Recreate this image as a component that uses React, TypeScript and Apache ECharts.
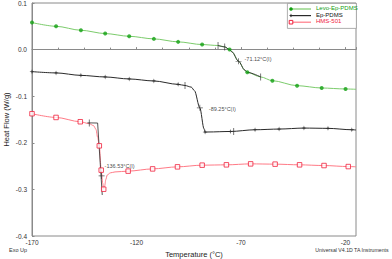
import React, { useEffect, useRef } from "react";
import * as echarts from "echarts";

// Levo-Ep-PDMS curve [T, heat flow]
const greenCurve: [number, number][] = [
  [-170, 0.058], [-158.5, 0.05], [-146.6, 0.0415], [-135, 0.0344], [-123.5, 0.0286],
  [-111.7, 0.023], [-100.1, 0.0166], [-88.6, 0.0108], [-81, 0.0088], [-77.8, 0.0058],
  [-75.5, 0.0], [-74.3, -0.005], [-71.2, -0.025], [-68.2, -0.044], [-67, -0.0488],
  [-60.6, -0.0587], [-55, -0.0667], [-43.2, -0.0774], [-31.4, -0.0824], [-20, -0.0845], [-15, -0.0852],
];
const greenMarkers: [number, number][] = [
  [-170, 0.058], [-158.5, 0.05], [-146.6, 0.0415], [-135, 0.0344], [-123.5, 0.0286],
  [-111.7, 0.023], [-100.1, 0.0166], [-88.6, 0.0108], [-75.5, 0.0], [-67, -0.0488],
  [-55, -0.0667], [-43.2, -0.0774], [-31.4, -0.0824], [-20, -0.0845],
];
const greenStep: [number, number] = [-81, -60.6];

// Ep-PDMS curve
const blackCurve: [number, number][] = [
  [-170, -0.0473], [-158.5, -0.05], [-146.6, -0.0553], [-135, -0.0587], [-123.5, -0.063],
  [-111.7, -0.0673], [-100.1, -0.0746], [-96.8, -0.077], [-93.8, -0.0805], [-92.3, -0.088],
  [-89.7, -0.125], [-87.7, -0.17], [-87.2, -0.177], [-85.8, -0.1768], [-75.1, -0.1757],
  [-63.3, -0.172], [-51.8, -0.1705], [-39.9, -0.1684], [-28.4, -0.169], [-17, -0.172], [-15, -0.1725],
];
const blackMarkers: [number, number][] = [
  [-170, -0.0473], [-158.5, -0.05], [-146.6, -0.0553], [-135, -0.0587], [-123.5, -0.063],
  [-111.7, -0.0673], [-100.1, -0.0746], [-87.2, -0.177], [-75.1, -0.1757], [-63.3, -0.172],
  [-51.8, -0.1705], [-39.9, -0.1684], [-28.4, -0.169], [-17, -0.172],
];

// HMS-501 curve
const redCurve: [number, number][] = [
  [-170, -0.1376], [-158.5, -0.1456], [-146.9, -0.1548], [-142.6, -0.159], [-140.6, -0.163],
  [-139.4, -0.171], [-138.6, -0.188], [-137.8, -0.2065], [-136.9, -0.2587], [-136.2, -0.286],
  [-135.7, -0.2996], [-135.2, -0.292], [-134.7, -0.279], [-134.0, -0.269], [-132.5, -0.2645],
  [-130.3, -0.2625], [-124, -0.2608], [-112.3, -0.256], [-100.4, -0.2516], [-88.6, -0.248],
  [-77, -0.2473], [-65.4, -0.2452], [-53.7, -0.2458], [-42, -0.2473], [-30.3, -0.2488],
  [-18.7, -0.251], [-15, -0.2515],
];
const redMarkers: [number, number][] = [
  [-170, -0.1376], [-158.5, -0.1456], [-146.9, -0.1548], [-137.8, -0.2065], [-136.9, -0.2587],
  [-135.7, -0.2996], [-124, -0.2608], [-112.3, -0.256], [-100.4, -0.2516], [-88.6, -0.248],
  [-77, -0.2473], [-65.4, -0.2452], [-53.7, -0.2458], [-42, -0.2473], [-30.3, -0.2488], [-18.7, -0.251],
];
const redTangentFlat: [number, number][] = [[-143.5, -0.1572], [-138.6, -0.1576]];
const redTangentSteep: [number, number][] = [[-138.6, -0.1576], [-136.4, -0.312]];

// analysis tick marks (onset / offset)
const analysisTicks: [number, number][] = [
  [-81, 0.0088], [-77.8, 0.0058], [-60.6, -0.0587],
  [-96.8, -0.077], [-73.5, -0.1755],
  [-142.6, -0.1575],
];
// glass-transition inflection points with labels
const inflections: { value: [number, number]; text: string; offset: [number, number] }[] = [
  { value: [-71.2, -0.025], text: "-71.12°C(I)", offset: [1, -2.5] },
  { value: [-89.7, -0.125], text: "-89.25°C(I)", offset: [4, 1] },
  { value: [-136.7, -0.271], text: "-136.53°C(I)", offset: [-2, -10] },
];

const xTicks = { min: -170, max: -15, interval: 50 };
const yTicks = { min: -0.4, max: 0.1, interval: 0.1 };

const GREEN_LINE = "#7ccc6c";
const GREEN_MARK = "#12a012";
const BLACK = "#2a2a2a";
const RED_LINE = "#ff7a86";
const RED_MARK = "#f0203c";
const FONT = "Liberation Sans";

const STAR = "path://M5,0L6.2,3.8L10,5L6.2,6.2L5,10L3.8,6.2L0,5L3.8,3.8Z";
const PLUS = "path://M4.4,0H5.6V4.4H10V5.6H5.6V10H4.4V5.6H0V4.4H4.4Z";

export default function App() {
  const ref = useRef<HTMLDivElement>(null);
  useEffect(() => {
    if (!ref.current) return;
    const chart = echarts.init(ref.current, undefined, { renderer: "svg" });
    const stepSeg = greenCurve.filter((p) => p[0] >= greenStep[0] && p[0] <= greenStep[1]);
    const legendRows = [
      { name: "Levo-Ep-PDMS", line: GREEN_LINE, color: GREEN_MARK, text: GREEN_MARK },
      { name: "Ep-PDMS", line: BLACK, color: BLACK, text: "#111" },
      { name: "HMS-501", line: RED_LINE, color: RED_MARK, text: RED_MARK },
    ];
    const legendGraphics: any[] = [
      { type: "rect", left: 287, top: 3, shape: { width: 69, height: 25 }, style: { fill: "#fff", stroke: "#999", lineWidth: 0.8 }, z: 100 },
    ];
    legendRows.forEach((r, i) => {
      const y = 9 + i * 6.6;
      legendGraphics.push({ type: "line", shape: { x1: 290, y1: y, x2: 311, y2: y }, style: { stroke: r.line, lineWidth: 1.2 }, z: 101 });
      if (i === 0) legendGraphics.push({ type: "circle", shape: { cx: 291, cy: y, r: 1.8 }, style: { fill: r.color }, z: 102 });
      if (i === 1) legendGraphics.push({ type: "polygon", shape: { points: [[291, y - 2], [291.6, y - 0.6], [293, y], [291.6, y + 0.6], [291, y + 2], [290.4, y + 0.6], [289, y], [290.4, y - 0.6]] }, style: { fill: r.color }, z: 102 });
      if (i === 2) legendGraphics.push({ type: "rect", shape: { x: 289.2, y: y - 1.8, width: 3.6, height: 3.6 }, style: { fill: "#fff", stroke: r.color, lineWidth: 1 }, z: 102 });
      legendGraphics.push({ type: "text", left: 316, top: y - 4, style: { text: r.name, fill: r.text, font: `6px "${FONT}"` }, z: 102 });
    });

    chart.setOption({
      animation: false,
      backgroundColor: "#fff",
      textStyle: { fontFamily: FONT },
      grid: { left: 32, right: 36, top: 3, bottom: 23, show: true, borderColor: "#8a8a8a", borderWidth: 1, outerBoundsMode: "none", containLabel: false },
      xAxis: {
        type: "value",
        min: xTicks.min,
        max: xTicks.max,
        interval: xTicks.interval,
        name: "Temperature (°C)",
        nameLocation: "middle",
        nameGap: 14,
        nameMoveOverlap: false,
        nameTextStyle: { fontSize: 7.5, color: "#222", fontFamily: FONT },
        axisLine: { lineStyle: { color: "#8a8a8a" } },
        axisTick: { inside: true, length: 2.5, lineStyle: { color: "#8a8a8a" } },
        minorTick: { show: true, splitNumber: 4, length: 2, lineStyle: { color: "#8a8a8a" } },
        axisLabel: { fontSize: 6.5, color: "#333", margin: 3, showMaxLabel: false, fontFamily: FONT },
        splitLine: { show: false },
      },
      yAxis: {
        type: "value",
        min: yTicks.min,
        max: yTicks.max,
        interval: yTicks.interval,
        name: "Heat Flow (W/g)",
        nameLocation: "middle",
        nameGap: 22,
        nameMoveOverlap: false,
        nameRotate: 90,
        nameTextStyle: { fontSize: 7.5, color: "#222", fontFamily: FONT },
        axisLine: { lineStyle: { color: "#8a8a8a" } },
        axisTick: { inside: true, length: 2.5, lineStyle: { color: "#8a8a8a" } },
        axisLabel: { fontSize: 6.5, color: "#333", margin: 5, formatter: (v: number) => v.toFixed(1), fontFamily: FONT },
        splitLine: { show: false },
      },
      graphic: [
        { type: "text", left: 9, top: 247, style: { text: "Exo Up", fill: "#333", font: `5.5px "${FONT}"` } },
        { type: "text", right: 3, top: 247, style: { text: "Universal V4.1D TA Instruments", fill: "#333", font: `5.2px "${FONT}"` } },
        ...legendGraphics,
      ],
      series: [
        { type: "line", data: greenCurve, symbol: "none", lineStyle: { color: GREEN_LINE, width: 1 }, smooth: 0.3, smoothMonotone: "x", z: 2 },
        { type: "line", data: stepSeg, symbol: "none", lineStyle: { color: BLACK, width: 0.9 }, smooth: 0.3, smoothMonotone: "x", z: 3 },
        { type: "scatter", data: greenMarkers, symbol: "circle", symbolSize: 4, itemStyle: { color: GREEN_MARK }, z: 4 },
        { type: "line", data: blackCurve, symbol: "none", lineStyle: { color: BLACK, width: 1 }, smooth: 0.3, smoothMonotone: "x", z: 2 },
        { type: "scatter", data: blackMarkers, symbol: STAR, symbolSize: 5, itemStyle: { color: BLACK }, z: 4 },
        { type: "line", data: redCurve, symbol: "none", lineStyle: { color: RED_LINE, width: 1 }, smooth: 0.3, smoothMonotone: "x", z: 2 },
        { type: "scatter", data: redMarkers, symbol: "rect", symbolSize: 4.5, itemStyle: { color: "#fff", borderColor: RED_MARK, borderWidth: 1 }, z: 4 },
        { type: "line", data: redTangentFlat, symbol: "none", lineStyle: { color: BLACK, width: 0.8 }, z: 3 },
        { type: "line", data: redTangentSteep, symbol: "none", lineStyle: { color: BLACK, width: 0.8 }, z: 3 },
        { type: "scatter", data: analysisTicks, symbol: "rect", symbolSize: [0.8, 7], itemStyle: { color: BLACK }, z: 5 },
        {
          type: "scatter",
          data: inflections.map((d) => ({
            value: d.value,
            label: { show: true, formatter: d.text, position: "right", distance: 2, offset: d.offset, fontSize: 5.5, color: "#111", fontFamily: FONT },
          })),
          symbol: PLUS,
          symbolSize: 6,
          itemStyle: { color: BLACK },
          z: 6,
        },
      ],
    });
    return () => chart.dispose();
  }, []);
  return <div ref={ref} style={{ position: "fixed", left: 0, top: 0, width: 392, height: 259 }} />;
}
